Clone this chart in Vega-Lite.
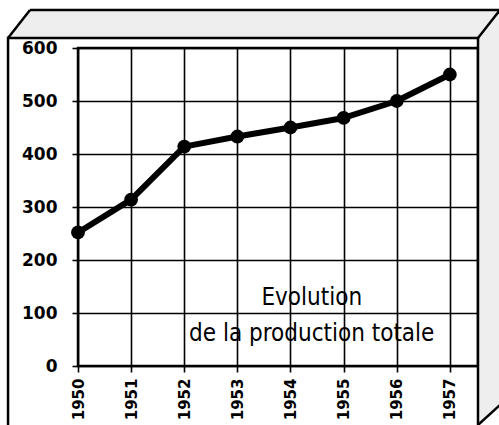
{
  "$schema": "https://vega.github.io/schema/vega-lite/v6.json",
  "width": 400,
  "height": 318,
  "autosize": {"type": "none"},
  "padding": {"left": 78, "top": 48, "right": 21, "bottom": 59},
  "background": "white",
  "config": {
    "view": {"stroke": "black", "strokeWidth": 2.5},
    "axis": {
      "grid": true,
      "gridColor": "black",
      "gridOpacity": 1,
      "gridWidth": 1.6,
      "domain": false,
      "ticks": true,
      "tickColor": "black",
      "tickWidth": 1.6,
      "tickSize": 6,
      "labelFont": "DejaVu Sans",
      "labelFontWeight": "bold",
      "labelFontSize": 15,
      "labelColor": "black",
      "title": null
    }
  },
  "datasets": {
    "prod": [
      {"year": 1950, "value": 252},
      {"year": 1951, "value": 314},
      {"year": 1952, "value": 414},
      {"year": 1953, "value": 433},
      {"year": 1954, "value": 450},
      {"year": 1955, "value": 468},
      {"year": 1956, "value": 500},
      {"year": 1957, "value": 550}
    ],
    "band": [
      {"part": "top", "year": 1948.683, "value": 618.9, "value2": 618.9},
      {"part": "top", "year": 1949.097, "value": 671.7, "value2": 618.9},
      {"part": "top", "year": 1958.32, "value": 671.7, "value2": 618.9},
      {"part": "right", "year": 1957.53, "value": 671.7, "value2": -111.3},
      {"part": "right", "year": 1957.943, "value": 671.7, "value2": -73.6},
      {"part": "right", "year": 1958.32, "value": 671.7, "value2": -73.6}
    ],
    "edges": [
      {"seg": "front", "ord": 0, "year": 1948.683, "value": -125},
      {"seg": "front", "ord": 1, "year": 1948.683, "value": 618.9},
      {"seg": "front", "ord": 2, "year": 1957.53, "value": 618.9},
      {"seg": "front", "ord": 3, "year": 1957.53, "value": -125},
      {"seg": "back", "ord": 0, "year": 1949.097, "value": 671.7},
      {"seg": "back", "ord": 1, "year": 1958.32, "value": 671.7},
      {"seg": "tl", "ord": 0, "year": 1948.683, "value": 618.9},
      {"seg": "tl", "ord": 1, "year": 1949.097, "value": 671.7},
      {"seg": "tr", "ord": 0, "year": 1957.53, "value": 618.9},
      {"seg": "tr", "ord": 1, "year": 1957.943, "value": 671.7},
      {"seg": "br", "ord": 0, "year": 1957.53, "value": -111.3},
      {"seg": "br", "ord": 1, "year": 1957.943, "value": -73.6}
    ],
    "notes": [
      {"year": 1954.4, "value": 115, "label": "Evolution"},
      {"year": 1954.4, "value": 47, "label": "de la production totale"}
    ]
  },
  "encoding": {
    "x": {
      "field": "year",
      "type": "quantitative",
      "scale": {"domain": [1950, 1957.53], "nice": false, "zero": false},
      "axis": {
        "values": [1950, 1951, 1952, 1953, 1954, 1955, 1956, 1957],
        "format": "d",
        "labelAngle": -90,
        "labelPadding": 6,
        "labelAlign": "right",
        "labelBaseline": "middle",
        "labelFontSize": 15
      }
    },
    "y": {
      "field": "value",
      "type": "quantitative",
      "scale": {"domain": [0, 600], "nice": false},
      "axis": {
        "values": [0, 100, 200, 300, 400, 500, 600],
        "labelPadding": 15,
        "labelFontSize": 17
      }
    }
  },
  "layer": [
    {
      "data": {"name": "band"},
      "mark": {"type": "area", "fill": "#eeeeee", "clip": false},
      "encoding": {
        "y2": {"field": "value2"},
        "detail": {"field": "part"}
      }
    },
    {
      "data": {"name": "edges"},
      "mark": {"type": "line", "stroke": "black", "strokeWidth": 2.5, "clip": false},
      "encoding": {
        "detail": {"field": "seg"},
        "order": {"field": "ord", "type": "quantitative"}
      }
    },
    {
      "data": {"name": "prod"},
      "mark": {"type": "line", "stroke": "black", "strokeWidth": 6, "strokeJoin": "round"},
      "encoding": {}
    },
    {
      "data": {"name": "prod"},
      "mark": {"type": "point", "filled": true, "fill": "black", "opacity": 1, "size": 190, "shape": "circle"},
      "encoding": {}
    },
    {
      "data": {"name": "notes"},
      "mark": {
        "type": "text",
        "font": "Liberation Sans Narrow, DejaVu Sans Condensed",
        "fontSize": 24,
        "align": "center",
        "baseline": "alphabetic",
        "fill": "black"
      },
      "encoding": {"text": {"field": "label"}}
    }
  ]
}
